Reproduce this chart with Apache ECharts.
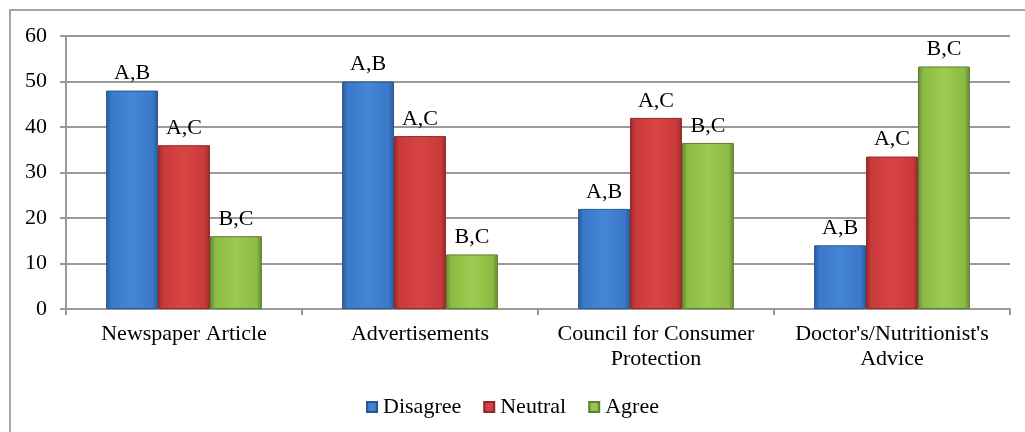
<!DOCTYPE html>
<html>
<head>
<meta charset="utf-8">
<script src="https://cdn.jsdelivr.net/npm/echarts@6/dist/echarts.min.js"></script>
<style>
  html, body { margin: 0; padding: 0; background: #fff; }
  #chart { width: 1025px; height: 432px; }
</style>
</head>
<body>
<div id="chart"></div>
<script>
// Information sources and how respondents rated them
const categories = ['Newspaper Article', 'Advertisements', 'Council for Consumer\nProtection', "Doctor's/Nutritionist's\nAdvice"];
const disagree = [48, 50, 22, 14];
const neutral = [36, 38, 42, 33.5];
const agree = [16, 12, 36.5, 53.3];
// Significance letters printed above each bar
const disagreeTags = ['A,B', 'A,B', 'A,B', 'A,B'];
const neutralTags = ['A,C', 'A,C', 'A,C', 'A,C'];
const agreeTags = ['B,C', 'B,C', 'B,C', 'B,C'];
const yTicks = [0, 10, 20, 30, 40, 50, 60];

const FONT = '"Liberation Serif", "Times New Roman", serif';

function bevel(dark, mid, light) {
  return {
    type: 'linear', x: 0, y: 0, x2: 1, y2: 0,
    colorStops: [
      { offset: 0, color: dark },
      { offset: 0.1, color: mid },
      { offset: 0.5, color: light },
      { offset: 0.9, color: mid },
      { offset: 1, color: dark }
    ]
  };
}

function makeSeries(name, values, tags, fill, border) {
  return {
    name: name,
    type: 'bar',
    data: values,
    barGap: '0%',
    barCategoryGap: '34%',
    itemStyle: { color: fill, borderColor: border, borderWidth: 1 },
    label: {
      show: true,
      position: 'top',
      distance: 6,
      color: '#000',
      fontFamily: FONT,
      fontSize: 22,
      formatter: p => tags[p.dataIndex]
    }
  };
}

const chart = echarts.init(document.getElementById('chart'));
chart.setOption({
  animation: false,
  backgroundColor: '#fff',
  graphic: [{
    type: 'rect',
    shape: { x: 10, y: 10, width: 1040, height: 450 },
    style: { fill: 'none', stroke: '#a6a6a6', lineWidth: 2 },
    silent: true,
    z: -1
  }],
  grid: { left: 66, right: 15, top: 36, bottom: 123 },
  legend: {
    bottom: 9,
    left: 'center',
    itemWidth: 10,
    itemHeight: 10,
    itemGap: 22,
    icon: 'rect',
    textStyle: { fontFamily: FONT, fontSize: 22, color: '#000', padding: [0, 0, 0, 1] },
    data: ['Disagree', 'Neutral', 'Agree']
  },
  xAxis: {
    type: 'category',
    data: categories,
    axisLine: { lineStyle: { color: '#999', width: 2 } },
    axisTick: { show: true, length: 6, lineStyle: { color: '#999', width: 2 } },
    axisLabel: { fontFamily: FONT, fontSize: 22, color: '#000', margin: 13, lineHeight: 25, interval: 0 }
  },
  yAxis: {
    type: 'value',
    min: yTicks[0],
    max: yTicks[yTicks.length - 1],
    interval: 10,
    axisLine: { show: true, lineStyle: { color: '#999', width: 2 } },
    axisTick: { show: true, length: 6, lineStyle: { color: '#999', width: 2 } },
    axisLabel: { fontFamily: FONT, fontSize: 22, color: '#000', margin: 19 },
    splitLine: { lineStyle: { color: '#9a9a9a', width: 2 } }
  },
  series: [
    makeSeries('Disagree', disagree, disagreeTags, bevel('#2b5a9a', '#3a78c8', '#4586d6'), '#2a5590'),
    makeSeries('Neutral', neutral, neutralTags, bevel('#9a2a2a', '#c93a3a', '#d84444'), '#932626'),
    makeSeries('Agree', agree, agreeTags, bevel('#64862e', '#8cbb44', '#9ccb50'), '#5f8030')
  ]
});
</script>
</body>
</html>
